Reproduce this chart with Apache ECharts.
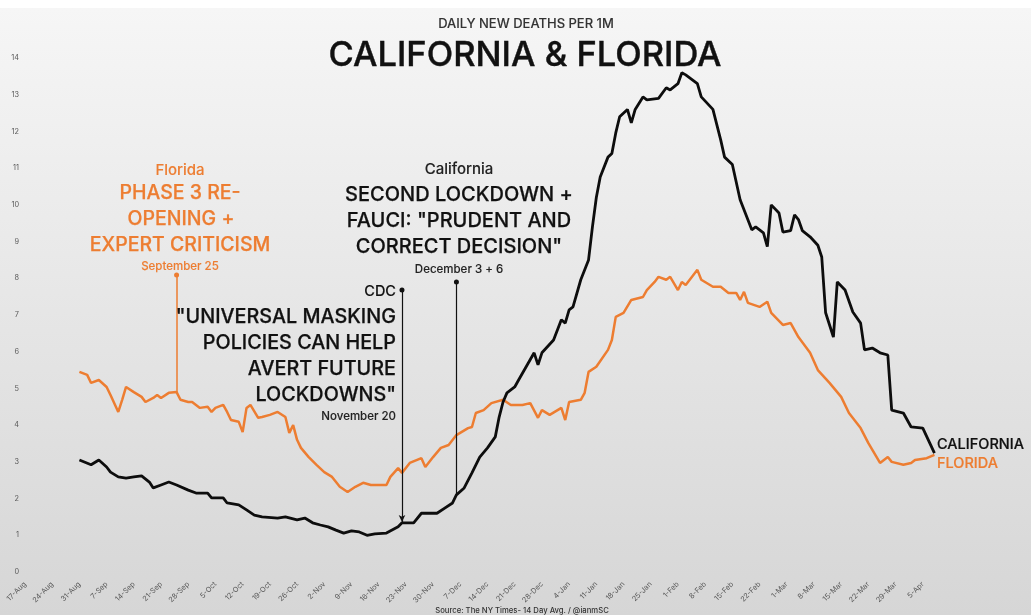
<!DOCTYPE html>
<html><head><meta charset="utf-8">
<script src="https://cdn.jsdelivr.net/npm/echarts@6/dist/echarts.min.js"></script>
<style>html,body{margin:0;padding:0;background:#fff}#c{width:1031px;height:615px}</style>
</head><body><div id="c"></div>
<script>
// x values are days since 17-Aug-2020
const tickLabels = ['17-Aug','24-Aug','31-Aug','7-Sep','14-Sep','21-Sep','28-Sep','5-Oct','12-Oct','19-Oct','26-Oct','2-Nov','9-Nov','16-Nov','23-Nov','30-Nov','7-Dec','14-Dec','21-Dec','28-Dec','4-Jan','11-Jan','18-Jan','25-Jan','1-Feb','8-Feb','15-Feb','22-Feb','1-Mar','8-Mar','15-Mar','22-Mar','29-Mar','5-Apr'];

const caDays = [14,17,19,21,22,24,26,28,30,32,33,35,37,39,42,44,47,48,51,52,55,57,59,61,65,67,70,72,74,76,78,80,82,84,86,88,90,93,96,97,100,102,106,108,110,111,113,115,117,119,121,122,123,124,126,127,131,132,133,136,138,139,140,141,143,145,146,147,148,150,151,152,153,155,156,157,159,160,163,165,166,168,169,170,173,174,177,179,180,182,184,187,188,190,191,192,194,195,197,198,199,200,202,204,205,206,208,209,211,213,215,216,218,220,222,223,226,228,231,234];
const caValues = [3.05,2.92,3.05,2.86,2.72,2.59,2.56,2.59,2.62,2.45,2.29,2.37,2.45,2.37,2.23,2.15,2.15,2.02,2.02,1.88,1.83,1.69,1.55,1.5,1.47,1.5,1.42,1.47,1.34,1.28,1.23,1.14,1.06,1.12,1.09,1.0,1.04,1.06,1.23,1.34,1.34,1.6,1.6,1.74,1.88,2.1,2.29,2.7,3.13,3.38,3.68,4.22,4.63,4.88,5.04,5.23,5.97,5.64,5.97,6.32,6.87,6.78,7.14,7.22,7.96,8.5,9.4,10.2,10.76,11.3,11.4,11.96,12.4,12.6,12.23,12.6,12.94,12.86,12.9,13.19,13.13,13.3,13.6,13.54,13.3,12.94,12.6,11.77,11.3,11.1,10.14,9.32,9.4,9.24,8.86,10.0,9.78,9.26,9.3,9.73,9.6,9.3,9.13,8.9,8.58,7.06,6.4,7.9,7.68,7.08,6.78,6.05,6.1,5.97,5.91,4.41,4.33,3.95,3.92,3.24];

const flDays = [14,16,17,19,21,22,24,25,26,28,30,31,33,34,35,37,39,40,42,43,45,47,48,49,51,52,53,55,56,57,58,60,61,63,65,67,68,69,70,71,73,75,77,79,81,83,85,87,89,93,94,96,97,99,102,103,105,107,109,111,114,115,116,118,120,123,125,128,130,132,133,135,138,139,140,143,144,145,147,150,151,152,154,156,159,160,162,163,165,166,168,169,170,173,174,177,179,181,183,184,185,186,189,191,192,195,197,199,202,204,207,210,212,215,217,220,222,223,226,228,229,232,234];
const flValues = [5.45,5.37,5.15,5.23,5.04,4.82,4.36,4.69,5.04,4.9,4.77,4.63,4.74,4.82,4.74,4.88,4.9,4.69,4.63,4.63,4.47,4.5,4.36,4.47,4.55,4.36,4.14,4.09,3.81,4.47,4.55,4.2,4.22,4.28,4.36,4.22,3.79,4.0,3.6,3.38,3.13,2.92,2.72,2.59,2.32,2.18,2.32,2.43,2.37,2.37,2.59,2.83,2.7,2.97,3.1,2.86,3.13,3.38,3.46,3.73,3.92,3.95,4.33,4.41,4.6,4.69,4.55,4.55,4.6,4.2,4.41,4.28,4.47,4.14,4.63,4.69,4.88,5.45,5.59,6.05,6.32,6.95,7.06,7.41,7.49,7.68,7.9,8.04,7.96,8.04,7.68,7.9,7.82,8.23,7.96,7.77,7.77,7.6,7.6,7.41,7.63,7.33,7.22,7.36,7.06,6.73,6.78,6.4,5.97,5.5,5.15,4.77,4.33,3.92,3.51,2.97,3.13,3.0,2.92,2.97,3.05,3.1,3.19];

const BLACK = '#0d0d0d', ORANGE = '#ED7D31';
const FONT = 'Inter, "Noto Sans", sans-serif';

const chart = echarts.init(document.getElementById('c'), null, {renderer:'canvas'});

function txt(text, x, y, size, color, align, stroke) {
  var st = {text:text, fill:color, font:'500 '+size+'px '+FONT, textAlign:align||'center', textVerticalAlign:'middle'};
  if (stroke) { st.stroke = color; st.lineWidth = stroke; }
  return {type:'text', x:x, y:y, silent:true, z:50, style:st};
}

const option = {
  animation:false,
  backgroundColor:'#ffffff',
  grid:{left:25, right:81, top:58, bottom:43, containLabel:false},
  xAxis:{type:'value', min:0, max:238, interval:7,
    axisLine:{show:false}, axisTick:{show:false}, splitLine:{show:false},
    axisLabel:{rotate:45, fontSize:7.3, color:'#595959', margin:11, fontFamily:FONT,
      formatter:function(v){ return tickLabels[Math.round(v/7)] || ''; }}},
  yAxis:{type:'value', min:0, max:14, interval:1,
    axisLine:{show:false}, axisTick:{show:false}, splitLine:{show:false},
    axisLabel:{fontSize:7.3, color:'#595959', margin:6, fontFamily:FONT}},
  graphic:[
    {type:'rect', silent:true, z:-100, shape:{x:0,y:0,width:1031,height:615}, style:{fill:'#ffffff'}},
    {type:'rect', silent:true, z:-99, shape:{x:0,y:8,width:1031,height:607},
      style:{fill:new echarts.graphic.LinearGradient(0,0,0,1,[{offset:0,color:'#f6f6f6'},{offset:1,color:'#d6d6d6'}])}},
    txt('DAILY NEW DEATHS PER 1M', 526, 24, 13, '#333', 'center', 0.1),
    txt('CALIFORNIA & FLORIDA', 525, 56, 34.5, '#111', 'center', 0.4),
    txt('Florida', 180, 170, 15, ORANGE, 'center', 0.1),
    txt('PHASE 3 RE-', 180, 193, 19.5, ORANGE, 'center', 0.25),
    txt('OPENING +', 181, 219, 19.5, ORANGE, 'center', 0.25),
    txt('EXPERT CRITICISM', 180, 245, 19.5, ORANGE, 'center', 0.25),
    txt('September 25', 180, 267, 11.5, ORANGE, 'center', 0.1),
    txt('California', 459, 169, 15, '#222', 'center', 0.1),
    txt('SECOND LOCKDOWN +', 459, 195, 20, '#111', 'center', 0.25),
    txt('FAUCI: "PRUDENT AND', 459, 221, 20, '#111', 'center', 0.25),
    txt('CORRECT DECISION"', 459, 247, 20, '#111', 'center', 0.25),
    txt('December 3 + 6', 459, 270, 11.5, '#222', 'center', 0.1),
    txt('CDC', 396, 292, 14.5, '#111', 'right', 0.1),
    txt('"UNIVERSAL MASKING', 396, 317, 19.8, '#111', 'right', 0.25),
    txt('POLICIES CAN HELP', 396, 343, 19.8, '#111', 'right', 0.25),
    txt('AVERT FUTURE', 396, 369, 19.8, '#111', 'right', 0.25),
    txt('LOCKDOWNS"', 396, 395, 19.8, '#111', 'right', 0.25),
    txt('November 20', 396, 417, 11.5, '#222', 'right', 0.1),
    txt('CALIFORNIA', 937, 445, 14.5, '#111', 'left', 0.2),
    txt('FLORIDA', 937, 464, 14.5, ORANGE, 'left', 0.2),
    txt('Source: The NY Times- 14 Day Avg. / @ianmSC', 522, 611, 7.7, '#333', 'center')
  ],
  series:[
    {type:'line', name:'California', showSymbol:false, symbol:'none', z:5,
      data:caDays.map(function(d,i){return [d, caValues[i]];}),
      lineStyle:{color:BLACK, width:2.8}, itemStyle:{color:BLACK},
      markLine:{silent:true, animation:false, symbol:['circle','arrow'], symbolSize:[5,7],
        label:{show:false}, lineStyle:{color:'#111', width:1.2, type:'solid'},
        data:[
          [{coord:[97,7.68]},{coord:[97,1.36]}],
          [{coord:[111,7.9]},{coord:[111,2.1], symbol:'none'}]
        ]}},
    {type:'line', name:'Florida', showSymbol:false, symbol:'none', z:4,
      data:flDays.map(function(d,i){return [d, flValues[i]];}),
      lineStyle:{color:ORANGE, width:2.5}, itemStyle:{color:ORANGE},
      markLine:{silent:true, animation:false, symbol:['circle','none'], symbolSize:[5,5],
        label:{show:false}, lineStyle:{color:ORANGE, width:1.5, type:'solid'},
        data:[[{coord:[39,8.09]},{coord:[39,4.9]}]]}}
  ]
};
chart.setOption(option);
</script></body></html>
